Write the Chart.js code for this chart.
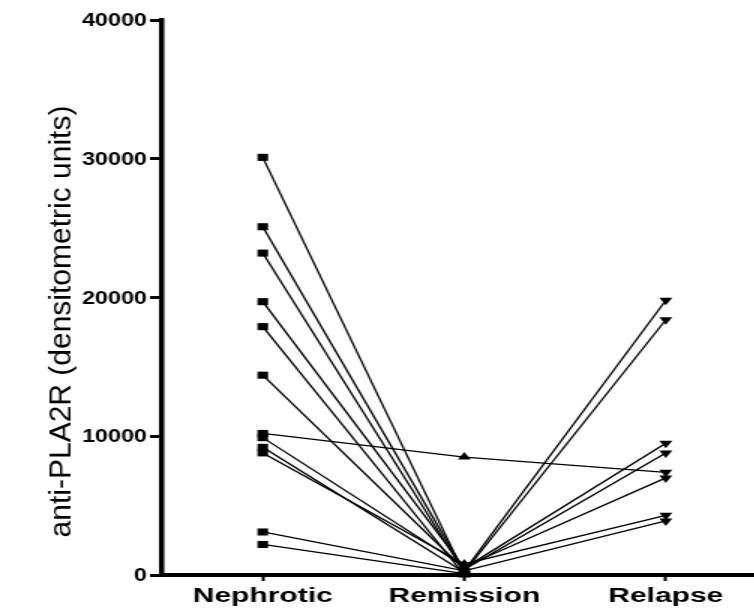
<!DOCTYPE html>
<html>
<head>
<meta charset="utf-8">
<script src="https://cdn.jsdelivr.net/npm/chart.js@4.4.1/dist/chart.umd.min.js"></script>
<style>
  html, body { margin: 0; padding: 0; background: #fff; overflow: hidden; }
  /* the figure is drawn narrow and widened horizontally, like the original plot */
  #wrap { width: 505px; height: 610px; transform: scaleX(1.5); transform-origin: 0 0; }
</style>
</head>
<body>
<div id="wrap"><canvas id="chart"></canvas></div>
<script>
const etapas = ['Nephrotic', 'Remission', 'Relapse'];
// one value per patient, in the same order in each array (null = no relapse)
const nefrotico = [30100, 25100, 23200, 19700, 17900, 14400, 10200, 9900, 9200, 8800, 3100, 2200];
const remision  = [100, 300, 200, 500, 0, 400, 8500, 600, 200, 800, 300, 100];
const recaida   = [null, 19800, 18400, 9500, null, 8800, 7400, 7000, null, 4300, 3900, null];
const ticksY = [0, 10000, 20000, 30000, 40000];
const tituloY = 'anti-PLA2R (densitometric units)';

// titulo y etiquetas del eje Y, dibujados a mano para poder comprimirlos
const textoEjeY = {
  id: 'textoEjeY',
  afterDraw(chart) {
    const ctx = chart.ctx;
    const area = chart.chartArea;
    const ejeY = chart.scales.y;
    ctx.save();
    ctx.fillStyle = '#000';

    ctx.font = 'bold 19px "Liberation Sans"';
    ctx.textAlign = 'right';
    ctx.textBaseline = 'middle';
    ticksY.forEach(v => {
      ctx.save();
      ctx.translate(ejeY.right - 10, ejeY.getPixelForValue(v) + 1);
      ctx.scale(0.82, 1);
      ctx.fillText(String(v), 0, 0);
      ctx.restore();
    });

    ctx.translate(42, (area.top + area.bottom) / 2 + 24);
    ctx.rotate(-Math.PI / 2);
    ctx.scale(1, 0.66);
    ctx.font = '30px "Liberation Sans"';
    ctx.textAlign = 'center';
    ctx.fillText(tituloY, 0, 0);
    ctx.restore();
  }
};

const datasets = nefrotico.map((v, i) => {
  const puntos = [{ x: 0, y: v }, { x: 1, y: remision[i] }];
  if (recaida[i] !== null) puntos.push({ x: 2, y: recaida[i] });
  return {
    data: puntos,
    borderColor: '#000',
    backgroundColor: '#000',
    borderWidth: 1.3,
    pointRadius: 5,
    pointHoverRadius: 5,
    pointBorderWidth: 0,
    pointStyle: ctx => ctx.dataIndex === 0 ? 'rect' : 'triangle',
    pointRotation: ctx => ctx.dataIndex === 2 ? 180 : 0,
    clip: false
  };
});

new Chart(document.getElementById('chart'), {
  type: 'line',
  data: { datasets },
  plugins: [textoEjeY],
  options: {
    responsive: true,
    maintainAspectRatio: false,
    animation: false,
    layout: { autoPadding: false, padding: { top: 20, right: 0, bottom: 0, left: 0 } },
    plugins: { legend: { display: false }, tooltip: { enabled: false } },
    scales: {
      x: {
        type: 'linear',
        min: -0.5,
        max: 2.455,
        afterBuildTicks: s => { s.ticks = [0, 1, 2].map(v => ({ value: v })); },
        afterFit: s => { s.height = 35; },
        border: { color: '#000', width: 4 },
        grid: { drawOnChartArea: false, drawTicks: true, tickLength: 6, tickWidth: 2, tickColor: '#000' },
        ticks: {
          color: '#000',
          padding: 3,
          maxRotation: 0,
          font: { family: 'Liberation Sans', weight: 'bold', size: 20 },
          callback: v => etapas[v]
        }
      },
      y: {
        min: 0,
        max: 40000,
        afterBuildTicks: s => { s.ticks = ticksY.map(v => ({ value: v })); },
        afterFit: s => { s.width = 108; },
        border: { color: '#000', width: 3.5 },
        grid: { drawOnChartArea: false, drawTicks: true, tickLength: 8, tickWidth: 3, tickColor: '#000' },
        ticks: { display: false }
      }
    }
  }
});
</script>
</body>
</html>
